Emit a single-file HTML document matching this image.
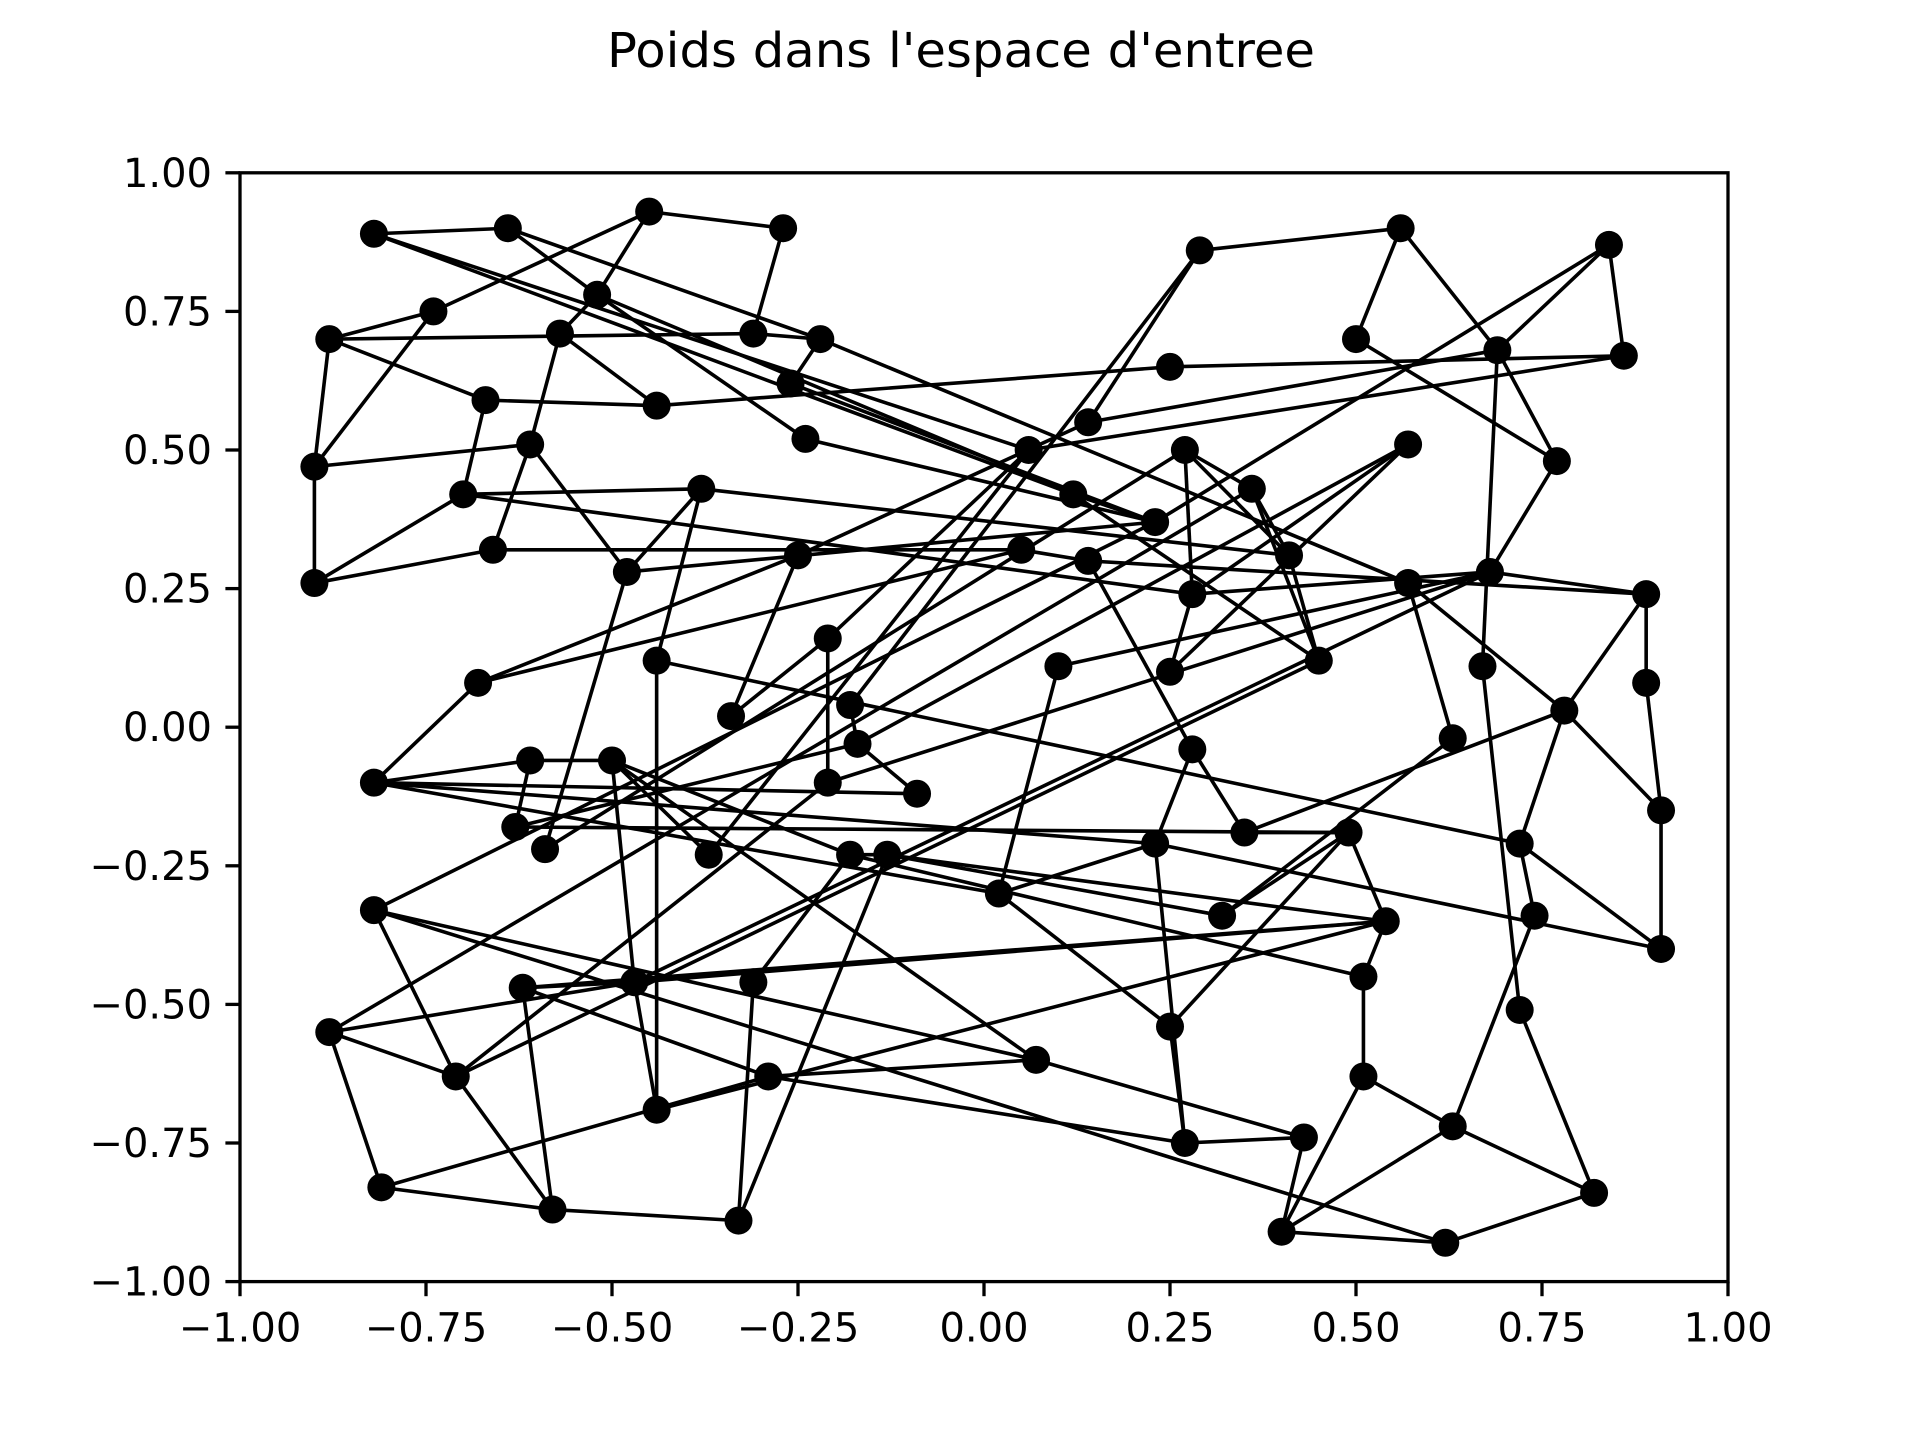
<!DOCTYPE html>
<html><head><meta charset="utf-8"><style>
html,body{margin:0;padding:0;background:#fff;}
svg{display:block;font-family:"DejaVu Sans","Liberation Sans",sans-serif;}
</style></head><body>
<svg id="chart" width="1920" height="1440" viewBox="0 0 1920 1440" xmlns="http://www.w3.org/2000/svg">
<rect x="0" y="0" width="1920" height="1440" fill="#fff"/>
<text x="961" y="67" font-size="48" text-anchor="middle" textLength="708" lengthAdjust="spacingAndGlyphs">Poids dans l'espace d'entree</text>
<g id="edges"></g>
<g id="nodes"></g>
<g id="axes"></g>
</svg>
<script>
const xs = [-0.82,-0.64,-0.45,-0.27,-0.88,-0.74,-0.52,-0.57,-0.31,-0.22,
 -0.26,-0.44,-0.67,-0.61,-0.90,-0.70,-0.38,-0.66,-0.90,-0.48,
 -0.24,-0.25,0.29,0.56,0.84,0.50,0.25,0.86,0.69,0.77,
 0.14,0.06,0.27,0.57,0.36,0.12,0.23,0.05,0.14,0.41,
 0.28,0.57,0.68,0.89,0.25,0.45,0.67,0.89,0.78,0.63,
 0.10,-0.68,-0.44,-0.34,-0.21,-0.18,-0.17,-0.21,-0.09,-0.82,
 -0.61,-0.50,-0.63,-0.59,-0.37,-0.18,-0.13,0.02,0.23,0.28,
 0.35,0.49,0.32,0.54,0.72,0.74,0.91,0.91,0.51,0.72,
 -0.82,-0.88,-0.62,-0.47,-0.31,-0.71,-0.44,-0.29,0.07,0.25,
 0.51,-0.81,-0.58,-0.33,0.27,0.43,0.40,0.62,0.63,0.82];
const ys = [0.89,0.90,0.93,0.90,0.70,0.75,0.78,0.71,0.71,0.70,
 0.62,0.58,0.59,0.51,0.47,0.42,0.43,0.32,0.26,0.28,
 0.52,0.31,0.86,0.90,0.87,0.70,0.65,0.67,0.68,0.48,
 0.55,0.50,0.50,0.51,0.43,0.42,0.37,0.32,0.30,0.31,
 0.24,0.26,0.28,0.24,0.10,0.12,0.11,0.08,0.03,-0.02,
 0.11,0.08,0.12,0.02,0.16,0.04,-0.03,-0.10,-0.12,-0.10,
 -0.06,-0.06,-0.18,-0.22,-0.23,-0.23,-0.23,-0.30,-0.21,-0.04,
 -0.19,-0.19,-0.34,-0.35,-0.21,-0.34,-0.15,-0.40,-0.45,-0.51,
 -0.33,-0.55,-0.47,-0.46,-0.46,-0.63,-0.69,-0.63,-0.60,-0.54,
 -0.63,-0.83,-0.87,-0.89,-0.75,-0.74,-0.91,-0.93,-0.72,-0.84];
const edgeFrom = [1,1,1,2,2,3,3,3,4,5,5,5,5,6,7,7,7,8,8,9,10,10,11,12,12,13,14,14,14,15,16,16,16,17,17,17,18,18,20,20,21,22,22,22,23,23,23,24,24,25,25,25,26,27,29,29,29,28,30,33,33,33,34,34,35,40,36,38,39,39,41,42,43,41,43,44,44,35,36,47,48,49,49,42,50,51,52,52,53,53,54,55,55,57,57,57,58,58,60,60,60,61,62,62,62,62,63,64,65,65,66,66,67,67,67,68,68,69,69,71,71,72,72,74,74,75,75,76,77,69,79,80,81,81,81,82,82,82,82,83,83,83,84,84,85,85,86,86,87,88,88,88,89,90,90,91,91,92,92,93,95,96,97,97,98,81,99,56,59,70];
const edgeTo   = [2,36,32,7,10,4,6,7,9,6,9,15,13,15,8,21,36,12,14,10,11,42,37,13,27,16,15,18,20,19,17,19,41,20,53,40,19,38,37,64,37,52,54,31,24,31,56,26,29,28,37,29,30,28,47,30,31,32,43,35,41,40,41,45,40,46,37,39,44,70,45,50,44,43,51,48,49,46,46,80,77,75,77,49,73,68,60,38,87,75,55,58,32,34,59,63,86,43,61,69,68,63,84,61,89,66,72,33,62,32,67,79,74,94,73,69,90,70,95,72,49,73,74,79,84,78,76,99,78,78,91,100,86,37,89,92,86,84,35,84,74,93,87,43,94,66,93,46,74,89,83,95,96,95,72,97,99,93,88,94,96,97,98,99,100,98,100,57,60,71];
const xTicks = [-1,-0.75,-0.5,-0.25,0,0.25,0.5,0.75,1];
const yTicks = [-1,-0.75,-0.5,-0.25,0,0.25,0.5,0.75,1];

const L=240,R=1728,T=172.8,B=1281.6;
function sx(v){return L+(v+1)/2*(R-L);}
function sy(v){return B-(v+1)/2*(B-T);}
const NS='http://www.w3.org/2000/svg';
function mk(tag,attrs,parent){const e=document.createElementNS(NS,tag);for(const k in attrs)e.setAttribute(k,attrs[k]);parent.appendChild(e);return e;}
const gE=document.getElementById('edges'),gN=document.getElementById('nodes'),gA=document.getElementById('axes');
for(let i=0;i<edgeFrom.length;i++){
  const a=edgeFrom[i]-1,b=edgeTo[i]-1;
  const l=mk('line',{x1:sx(xs[a]),y1:sy(ys[a]),x2:sx(xs[b]),y2:sy(ys[b]),stroke:'#000','stroke-width':3.6},gE);
  
  
}
for(let i=0;i<xs.length;i++){
  const c=mk('circle',{cx:sx(xs[i]),cy:sy(ys[i]),r:14,fill:'#000'},gN);
  
  
}
const fr=mk('rect',{x:L,y:T,width:R-L,height:B-T,fill:'none',stroke:'#000','stroke-width':3.3},gA);


function fmt(v){const s=Math.abs(v).toFixed(2);return (v<0?'\u2212':'')+s;}
xTicks.forEach(v=>{
  const t=mk('line',{x1:sx(v),y1:B,x2:sx(v),y2:B+14.6,stroke:'#000','stroke-width':3.3},gA);
  
  
  const tx=mk('text',{x:sx(v),y:B+60,'font-size':40,'text-anchor':'middle'},gA);
  tx.textContent=fmt(v);
  
  
});
yTicks.forEach(v=>{
  const t=mk('line',{x1:L-14.6,y1:sy(v),x2:L,y2:sy(v),stroke:'#000','stroke-width':3.3},gA);
  
  
  const tx=mk('text',{x:L-28,y:sy(v)+14,'font-size':40,'text-anchor':'end'},gA);
  tx.textContent=fmt(v);
  
  
});
</script>
</body></html>
